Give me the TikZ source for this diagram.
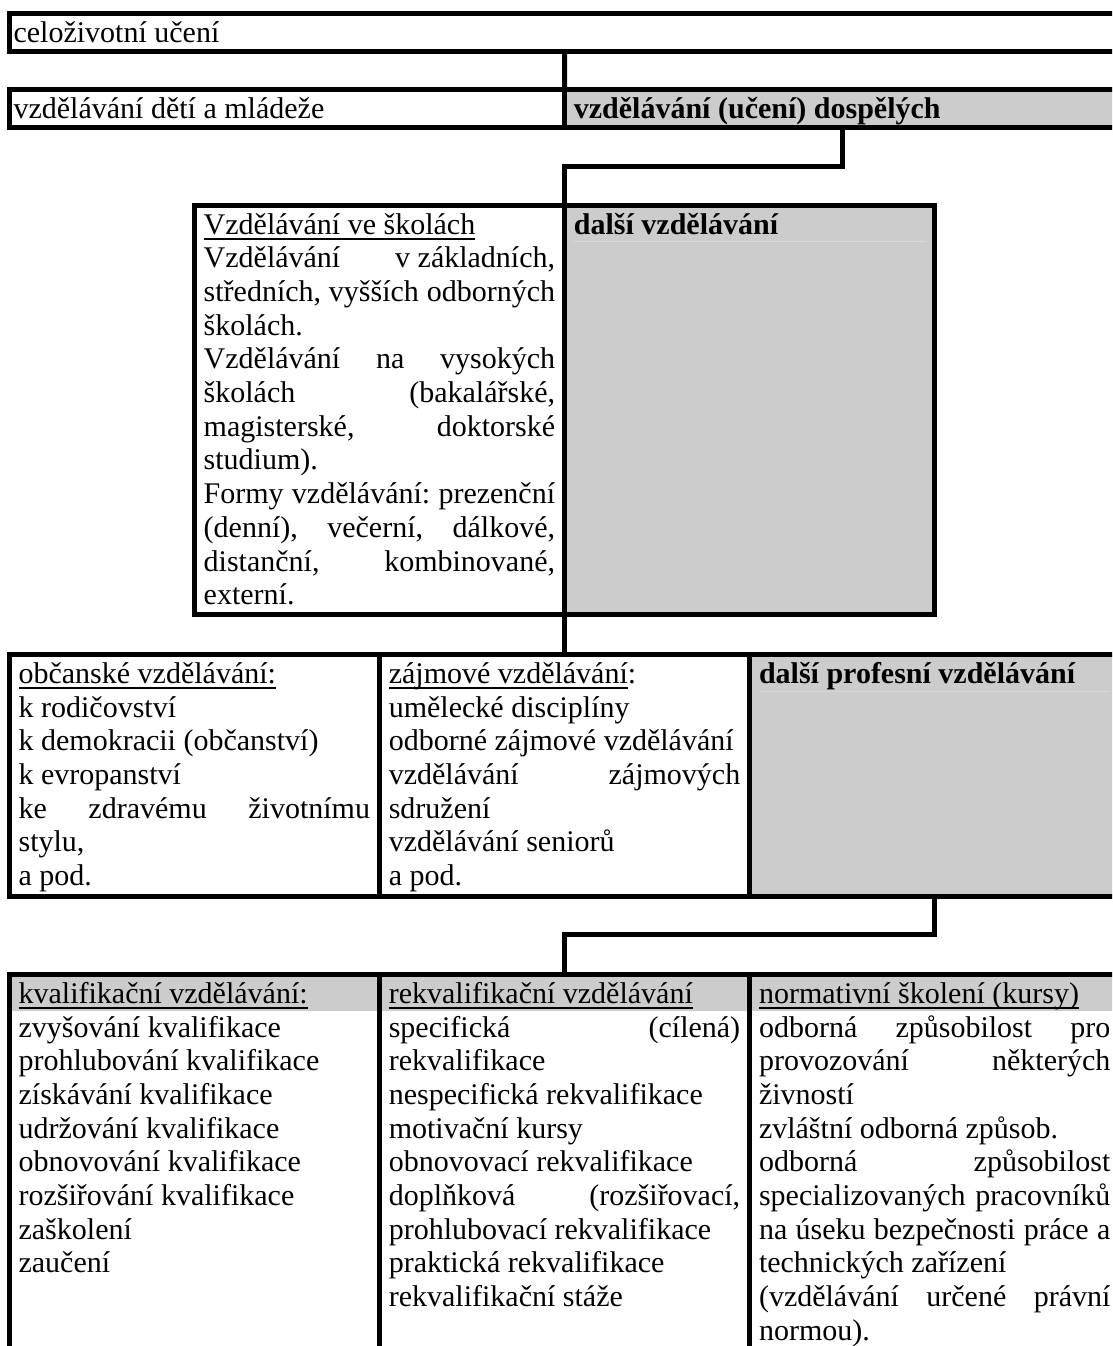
\documentclass[tikz,border=0pt]{standalone}
\usepackage{fontspec}
\setmainfont{Liberation Serif}
\definecolor{cellgray}{HTML}{CCCCCC}
\definecolor{hairline}{HTML}{D8D8D8}
\newcommand\fs{\fontsize{30pt}{33.7pt}\selectfont}
\newcommand\LN[1]{\hbox{#1}}
\newcommand\JN[1]{\hbox to \hsize{#1}}
\newcommand\UL[1]{\setbox0=\hbox{#1}\rlap{\rule[-5.6pt]{\wd0}{1.7pt}}\box0}
\newcommand\cellcol[1]{\vtop{\fs\hsize=351.4pt\baselineskip=33.7pt\lineskip=0pt\lineskiplimit=-50pt #1}}
\begin{document}
\begin{tikzpicture}[x=1pt,y=-1pt,
  cell/.style={draw=black,line width=5pt,inner sep=0pt,outer sep=0pt,anchor=north west,minimum width=370.2pt},
  grey/.style={fill=cellgray},
  conn/.style={draw=black,line width=5pt,line join=miter},
  celltext/.style={anchor=base west,inner sep=0pt,outer sep=0pt,font=\fs}]
\useasboundingbox (0,0) rectangle (1112,1346);
\clip (0,0) rectangle (1112,1346);

% cells
\node[cell,minimum width=1110.6pt,minimum height=38pt] (r1) at (9.2,13.5) {};
\node[cell,minimum width=555.3pt,minimum height=37.7pt] (r2a) at (9.2,89.8) {};
\node[cell,grey,minimum width=555.3pt,minimum height=37.7pt] (r2b) at (564.5,89.8) {};
\node[cell,minimum height=409pt] (b3a) at (194.3,205.2) {};
\node[cell,grey,minimum height=409pt] (b3b) at (564.5,205.2) {};
\node[cell,minimum height=241.5pt] (r3a) at (9.2,654.5) {};
\node[cell,minimum height=241.5pt] (r3b) at (379.4,654.5) {};
\node[cell,grey,minimum height=241.5pt] (r3c) at (749.6,654.5) {};
\node[cell,minimum height=420pt] (r4a) at (9.2,974.5) {};
\node[cell,minimum height=420pt] (r4b) at (379.4,974.5) {};
\node[cell,minimum height=420pt] (r4c) at (749.6,974.5) {};

% header bands of the last row
\fill[cellgray] (11.7,977) rectangle (376.9,1010.5);
\fill[cellgray] (381.9,977) rectangle (747.1,1010.5);
\fill[cellgray] (752.1,977) rectangle (1117.3,1010.5);

% faint lines under grey headings
\draw[hairline,line width=1pt] (573.9,241.4) -- (926,241.4);
\draw[hairline,line width=1pt] (759,691.2) -- (1110,691.2);

% connectors
\draw[conn] (r1.south) -- (r2a.north east);
\draw[conn] (r2b.south) -- ++(0,39) -| (b3a.north east);
\draw[conn] (b3a.south east) -- (r3b.north);
\draw[conn] (r3c.south) -- ++(0,38.5) -| (r4b.north);

% texts
\node[celltext] (t1) at (13.6,42.3) {celoživotní učení};
\node[celltext] (t2a) at (13.6,118.6) {vzdělávání dětí a mládeže};
\node[celltext] (t2b) at (573.9,118.6) {\textbf{vzdělávání (učení) dospělých}};

\node[celltext] (t3a) at (203.7,234) {\cellcol{%
\LN{\UL{Vzdělávání ve školách}}
\JN{Vzdělávání\hfill v základních,}
\JN{středních,\hfill vyšších\hfill odborných}
\LN{školách.}
\JN{Vzdělávání\hfill na\hfill vysokých}
\JN{školách\hfill (bakalářské,}
\JN{magisterské,\hfill doktorské}
\LN{studium).}
\JN{Formy\hfill vzdělávání:\hfill prezenční}
\JN{(denní),\hfill večerní,\hfill dálkové,}
\JN{distanční,\hfill kombinované,}
\LN{externí.}}};
\node[celltext] (t3b) at (573.9,234) {\textbf{další vzdělávání}};

\node[celltext] (t4a) at (18.6,683.3) {\cellcol{%
\LN{\UL{občanské vzdělávání:}}
\LN{k rodičovství}
\LN{k demokracii (občanství)}
\LN{k evropanství}
\JN{ke\hfill zdravému\hfill životnímu}
\LN{stylu,}
\LN{a pod.}}};
\node[celltext] (t4b) at (388.8,683.3) {\cellcol{%
\LN{\UL{zájmové vzdělávání}:}
\LN{umělecké disciplíny}
\LN{odborné zájmové vzdělávání}
\JN{vzdělávání\hfill zájmových}
\LN{sdružení}
\LN{vzdělávání seniorů}
\LN{a pod.}}};
\node[celltext] (t4c) at (759,683.3) {\textbf{další profesní vzdělávání}};

\node[celltext] (t5a) at (18.6,1003.3) {\cellcol{%
\LN{\UL{kvalifikační vzdělávání:}}
\LN{zvyšování kvalifikace}
\LN{prohlubování kvalifikace}
\LN{získávání kvalifikace}
\LN{udržování kvalifikace}
\LN{obnovování kvalifikace}
\LN{rozšiřování kvalifikace}
\LN{zaškolení}
\LN{zaučení}}};
\node[celltext] (t5b) at (388.8,1003.3) {\cellcol{%
\LN{\UL{rekvalifikační vzdělávání}}
\JN{specifická\hfill (cílená)}
\LN{rekvalifikace}
\LN{nespecifická rekvalifikace}
\LN{motivační kursy}
\LN{obnovovací rekvalifikace}
\JN{doplňková\hfill (rozšiřovací,}
\LN{prohlubovací rekvalifikace}
\LN{praktická rekvalifikace}
\LN{rekvalifikační stáže}}};
\node[celltext] (t5c) at (759,1003.3) {\cellcol{%
\LN{\UL{normativní školení (kursy)}}
\JN{odborná\hfill způsobilost\hfill pro}
\JN{provozování\hfill některých}
\LN{živností}
\LN{zvláštní odborná způsob.}
\JN{odborná\hfill způsobilost}
\JN{specializovaných\hfill pracovníků}
\JN{na\hfill úseku\hfill bezpečnosti\hfill práce\hfill a}
\LN{technických zařízení}
\JN{(vzdělávání\hfill určené\hfill právní}
\LN{normou).}}};
\end{tikzpicture}
\end{document}
